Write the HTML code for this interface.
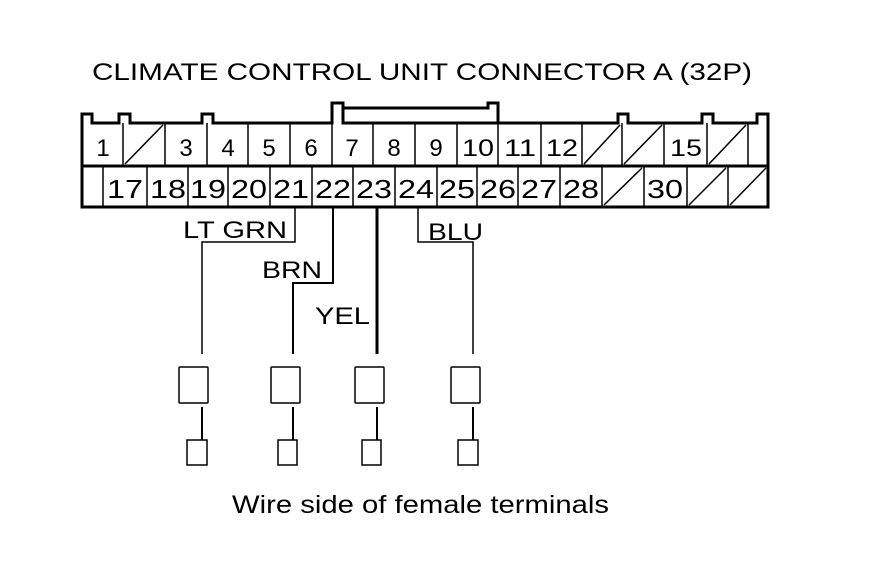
<!DOCTYPE html>
<html><head><meta charset="utf-8"><style>html,body{margin:0;padding:0;background:#fff}svg{display:block}</style></head><body>
<svg width="880" height="580" viewBox="0 0 880 580" xmlns="http://www.w3.org/2000/svg" font-family="Liberation Sans, Arial, sans-serif" fill="#000">
<rect width="880" height="580" fill="#fff"/>
<text x="92" y="80" font-size="24" textLength="660" lengthAdjust="spacingAndGlyphs">CLIMATE CONTROL UNIT CONNECTOR A (32P)</text>
<g fill="none" stroke="#000" stroke-width="3">
<path d="M82,207 V114 H92 V123 H119 V114 H130 V123 H202 V114 H213 V123 H332 V103 H343 V123 H618 V114 H628 V123 H702 V114 H713 V123 H757 V114 H768 V207 Z"/>
<path d="M343,108 H488 V103 H498 V123"/>
<line x1="82" y1="166" x2="768" y2="166"/>
</g>
<g stroke="#000" stroke-width="1.5" fill="none">
<path d="M123,123V166 M165,123V166 M207,123V166 M248,123V166 M290,123V166 M332,123V166 M373,123V166 M415,123V166 M457,123V166 M498,123V166 M541,123V166 M582,123V166 M622,123V166 M664,123V166 M707,123V166 M748,123V166"/>
<path d="M125,164L163,125 M584,164L620,125 M624,164L662,125 M709,164L746,125"/>
<path d="M103,166V207 M147,166V207 M188,166V207 M228,166V207 M270,166V207 M312,166V207 M353,166V207 M395,166V207 M437,166V207 M477,166V207 M518,166V207 M560,166V207 M602,166V207 M644,166V207 M687,166V207 M728,166V207"/>
<path d="M604,205L642,168 M689,205L726,168 M730,205L766,168"/>
</g>
<g font-size="24" text-anchor="middle">
<text x="103" y="156">1</text><text x="186" y="156">3</text><text x="228" y="156">4</text><text x="269" y="156">5</text><text x="311" y="156">6</text><text x="352" y="156">7</text><text x="394" y="156">8</text><text x="436" y="156">9</text>
<text x="478" y="156" textLength="32" lengthAdjust="spacingAndGlyphs">10</text><text x="520" y="156" textLength="32" lengthAdjust="spacingAndGlyphs">11</text><text x="562" y="156" textLength="32" lengthAdjust="spacingAndGlyphs">12</text><text x="686" y="156" textLength="32" lengthAdjust="spacingAndGlyphs">15</text>
</g>
<g font-size="26" text-anchor="middle">
<text x="125" y="198" textLength="36" lengthAdjust="spacingAndGlyphs">17</text>
<text x="168" y="198" textLength="36" lengthAdjust="spacingAndGlyphs">18</text>
<text x="208" y="198" textLength="36" lengthAdjust="spacingAndGlyphs">19</text>
<text x="249" y="198" textLength="36" lengthAdjust="spacingAndGlyphs">20</text>
<text x="291" y="198" textLength="36" lengthAdjust="spacingAndGlyphs">21</text>
<text x="333" y="198" textLength="36" lengthAdjust="spacingAndGlyphs">22</text>
<text x="374" y="198" textLength="36" lengthAdjust="spacingAndGlyphs">23</text>
<text x="416" y="198" textLength="36" lengthAdjust="spacingAndGlyphs">24</text>
<text x="457" y="198" textLength="36" lengthAdjust="spacingAndGlyphs">25</text>
<text x="498" y="198" textLength="36" lengthAdjust="spacingAndGlyphs">26</text>
<text x="539" y="198" textLength="36" lengthAdjust="spacingAndGlyphs">27</text>
<text x="581" y="198" textLength="36" lengthAdjust="spacingAndGlyphs">28</text>
<text x="665" y="198" textLength="36" lengthAdjust="spacingAndGlyphs">30</text>
</g>
<g stroke="#000" fill="none">
<path stroke-width="1.5" d="M295,207V242H202V354"/>
<path stroke-width="2" d="M333,207V283H293V354"/>
<path stroke-width="3" d="M377,207V354"/>
<path stroke-width="1.5" d="M418,207V242H473V354"/>
<g stroke-width="1.5">
<rect x="179" y="367" width="29" height="36" rx="1"/>
<rect x="271" y="367" width="29" height="36" rx="1"/>
<rect x="355" y="367" width="29" height="36" rx="1"/>
<rect x="451" y="367" width="29" height="36" rx="1"/>
<rect x="187" y="440" width="20" height="25"/>
<rect x="278" y="440" width="19" height="25"/>
<rect x="362" y="440" width="19" height="25"/>
<rect x="458" y="440" width="20" height="25"/>
</g>
<path stroke-width="2" d="M202,407V440 M293,407V440 M377,407V440 M473,407V440"/>
</g>
<g font-size="24">
<text x="183" y="238" textLength="104" lengthAdjust="spacingAndGlyphs">LT GRN</text>
<text x="262" y="278" textLength="60" lengthAdjust="spacingAndGlyphs">BRN</text>
<text x="315" y="324" textLength="55" lengthAdjust="spacingAndGlyphs">YEL</text>
<text x="428" y="240" textLength="55" lengthAdjust="spacingAndGlyphs">BLU</text>
</g>
<text x="232" y="513" font-size="25" textLength="377" lengthAdjust="spacingAndGlyphs">Wire side of female terminals</text>
</svg>
</body></html>
